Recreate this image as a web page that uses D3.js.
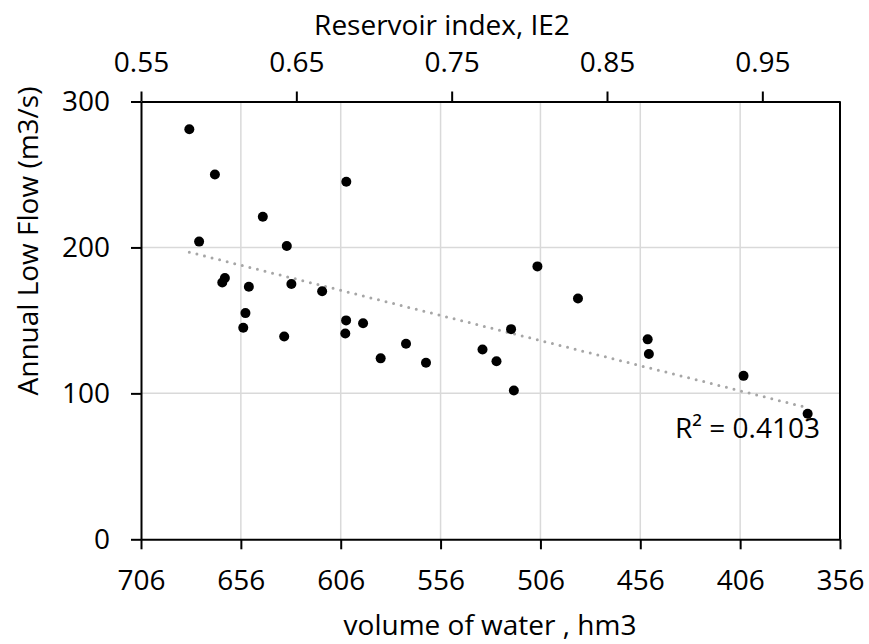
<!doctype html>
<html>
<head>
<meta charset="utf-8">
<script src="https://d3js.org/d3.v7.min.js"></script>
<style>
  body { margin: 0; background: #fff; }
  text { font-family: "Open Sans", sans-serif; fill: #000; }
</style>
</head>
<body>
<script>

// volume of water (hm3) and annual low flow (m3/s)
var volume = [681.8, 669, 645, 676.9, 633, 603.2, 664, 665.3, 652, 630.7,
              615.3, 653.7, 654.8, 634.3, 603.3, 603.7, 594.8, 586, 573.3, 563.3,
              507.5, 487.2, 520.7, 535, 528, 519.3, 452.3, 451.7, 404.3, 372.2];
var flow = [281, 250, 221, 204, 201, 245, 179, 176, 173, 175,
            170, 155, 145, 139, 150, 141, 148, 124, 134, 121,
            187, 165, 144, 130, 122, 102, 137, 127, 112, 86];

var volumeTicks = [706, 656, 606, 556, 506, 456, 406, 356];
var indexTicks = [0.55, 0.65, 0.75, 0.85, 0.95];
var flowTicks = [0, 100, 200, 300];
var r2Label = "R² = 0.4103";

var plot = {left: 141, right: 840, top: 101.5, bottom: 539.3};

var svg = d3.select("body").append("svg")
    .attr("width", 869)
    .attr("height", 644);

var x = d3.scaleLinear().domain([706, 356]).range([plot.left, plot.right]);
var xTop = d3.scaleLinear().domain([0.55, 1.0]).range([plot.left, plot.right]);
var y = d3.scaleLinear().domain([0, 300]).range([plot.bottom, plot.top]);

// gridlines
svg.append("g").selectAll("line")
   .data(volumeTicks.slice(1, -1))
   .enter().append("line")
   .attr("x1", function(d) { return x(d); })
   .attr("x2", function(d) { return x(d); })
   .attr("y1", plot.top)
   .attr("y2", plot.bottom)
   .attr("stroke", "#d9d9d9")
   .attr("stroke-width", 1.5);

svg.append("g").selectAll("line")
   .data(flowTicks.slice(1, -1))
   .enter().append("line")
   .attr("x1", plot.left)
   .attr("x2", plot.right)
   .attr("y1", function(d) { return y(d); })
   .attr("y2", function(d) { return y(d); })
   .attr("stroke", "#d9d9d9")
   .attr("stroke-width", 1.5);

// right frame line
svg.append("line")
   .attr("x1", plot.right).attr("x2", plot.right)
   .attr("y1", plot.top).attr("y2", plot.bottom)
   .attr("stroke", "#000")
   .attr("stroke-width", 2);

// axes
var gx = svg.append("g")
   .attr("transform", "translate(0," + plot.bottom + ")")
   .call(d3.axisBottom(x).tickValues(volumeTicks).tickSize(10).tickSizeOuter(0).tickPadding(21));

var gt = svg.append("g")
   .attr("transform", "translate(0," + plot.top + ")")
   .call(d3.axisTop(xTop).tickValues(indexTicks).tickFormat(d3.format(".2f"))
         .tickSize(10).tickSizeOuter(0).tickPadding(20));

var gy = svg.append("g")
   .attr("transform", "translate(" + plot.left + ",0)")
   .call(d3.axisLeft(y).tickValues(flowTicks).tickSize(10).tickSizeOuter(0).tickPadding(21));

[gx, gt, gy].forEach(function(g) {
    g.select(".domain").attr("stroke", "#000").attr("stroke-width", 2);
    g.selectAll(".tick line").attr("stroke", "#000").attr("stroke-width", 2);
    g.selectAll(".tick text").attr("font-size", "28px").attr("font-family", "Open Sans").attr("fill", "#000");
});

// linear trend line, least squares on the points
var mx = d3.mean(volume), my = d3.mean(flow);
var sxy = d3.sum(volume, function(v, i) { return (v - mx) * (flow[i] - my); });
var sxx = d3.sum(volume, function(v) { return (v - mx) * (v - mx); });
var slope = sxy / sxx, intercept = my - slope * mx;
var ext = d3.extent(volume);

svg.append("line")
   .attr("x1", x(ext[1])).attr("y1", y(intercept + slope * ext[1]))
   .attr("x2", x(ext[0])).attr("y2", y(intercept + slope * ext[0]))
   .attr("stroke", "#a6a6a6")
   .attr("stroke-width", 3)
   .attr("stroke-linecap", "round")
   .attr("stroke-dasharray", "0 7.8");

// points
svg.append("g").selectAll("circle")
   .data(volume)
   .enter().append("circle")
   .attr("cx", function(d) { return x(d); })
   .attr("cy", function(d, i) { return y(flow[i]); })
   .attr("r", 5)
   .attr("fill", "#000");

svg.append("text")
   .attr("x", 675)
   .attr("y", 438)
   .attr("font-size", "28px")
   .text(r2Label);

// axis titles
svg.append("text")
   .attr("x", 442)
   .attr("y", 35)
   .attr("text-anchor", "middle")
   .attr("font-size", "28px")
   .text("Reservoir index, IE2");

svg.append("text")
   .attr("x", 490)
   .attr("y", 635)
   .attr("text-anchor", "middle")
   .attr("font-size", "28px")
   .text("volume of water , hm3");

svg.append("text")
   .attr("transform", "translate(38,241) rotate(-90)")
   .attr("text-anchor", "middle")
   .attr("font-size", "28px")
   .text("Annual Low Flow (m3/s)");

</script>
</body>
</html>
